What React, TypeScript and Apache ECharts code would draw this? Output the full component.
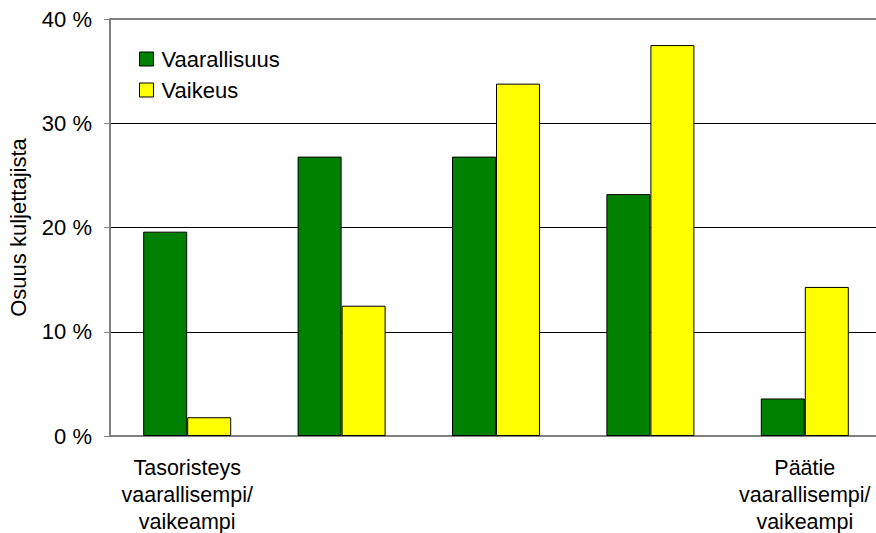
import React, { useEffect, useRef } from "react";
import * as echarts from "echarts";

const categories = [
  "Tasoristeys\nvaarallisempi/\nvaikeampi",
  "",
  " ",
  "  ",
  "Päätie\nvaarallisempi/\nvaikeampi",
];
const seriesNames = ["Vaarallisuus", "Vaikeus"];
const vaarallisuus = [19.6, 26.8, 26.8, 23.2, 3.6];
const vaikeus = [1.8, 12.5, 33.8, 37.5, 14.3];
const yTicks = [0, 10, 20, 30, 40];

const FONT = "'Liberation Sans', Arial, sans-serif";

export default function App() {
  const ref = useRef<HTMLDivElement>(null);
  useEffect(() => {
    if (!ref.current) return;
    const chart = echarts.init(ref.current, null, { renderer: "svg" });
    chart.setOption({
      animation: false,
      backgroundColor: "#ffffff",
      textStyle: { fontFamily: FONT },
      legend: {
        orient: "vertical",
        left: 139,
        top: 48,
        padding: 0,
        itemWidth: 14,
        itemHeight: 14,
        itemGap: 9,
        icon: "rect",
        itemStyle: { borderColor: "#000", borderWidth: 1 },
        textStyle: {
          fontSize: 22,
          lineHeight: 16,
          color: "#000",
          fontFamily: FONT,
          padding: [0, 0, 0, 3],
        },
        data: seriesNames,
      },
      grid: {
        left: 110,
        top: 19,
        width: 772,
        height: 417,
        containLabel: false,
        outerBoundsMode: "none",
      },
      xAxis: {
        type: "category",
        data: categories,
        axisLine: { show: true, lineStyle: { color: "#808080", width: 2 } },
        axisTick: { show: false },
        axisLabel: {
          interval: 0,
          margin: 18,
          fontSize: 21.5,
          lineHeight: 27,
          color: "#000",
          fontFamily: FONT,
        },
      },
      yAxis: {
        type: "value",
        min: yTicks[0],
        max: yTicks[yTicks.length - 1],
        interval: 10,
        name: "Osuus kuljettajista",
        nameLocation: "middle",
        nameGap: 81,
        nameTextStyle: { fontSize: 22, color: "#000", fontFamily: FONT },
        axisLine: { show: true, lineStyle: { color: "#808080", width: 2 } },
        axisTick: { show: true, length: 6, inside: false, lineStyle: { color: "#808080", width: 1 } },
        axisLabel: {
          margin: 18,
          fontSize: 22,
          color: "#000",
          fontFamily: FONT,
          formatter: (v: number) => `${v} %`,
        },
        splitLine: { show: true, lineStyle: { color: "#000", width: 1 } },
      },
      series: [
        {
          name: seriesNames[0],
          type: "bar",
          data: vaarallisuus,
          barGap: "0%",
          barCategoryGap: "43%",
          itemStyle: { color: "#008000", borderColor: "#000", borderWidth: 1 },
        },
        {
          name: seriesNames[1],
          type: "bar",
          data: vaikeus,
          barGap: "0%",
          barCategoryGap: "43%",
          itemStyle: { color: "#ffff00", borderColor: "#000", borderWidth: 1 },
        },
      ],
      graphic: [
        {
          type: "line",
          shape: { x1: 110, y1: 19, x2: 876, y2: 19 },
          style: { stroke: "#808080", lineWidth: 2 },
          z: 10,
        },
      ],
    });
    return () => chart.dispose();
  }, []);
  return (
    <div
      ref={ref}
      style={{ position: "fixed", left: 0, top: 0, width: 876, height: 533 }}
    />
  );
}
